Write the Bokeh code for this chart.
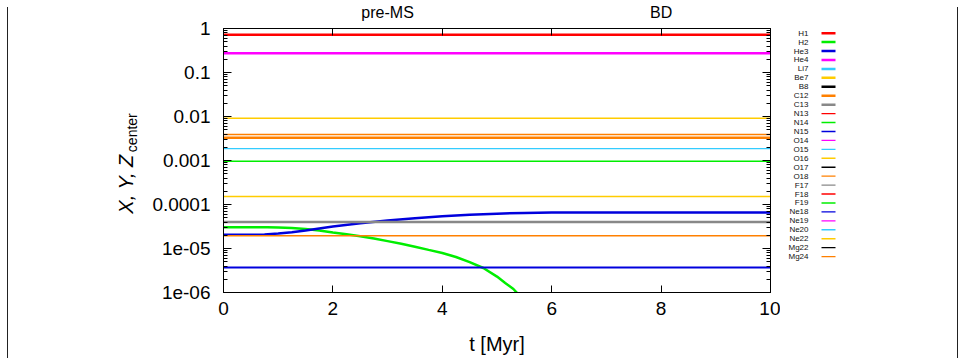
from bokeh.plotting import figure
from bokeh.layouts import row
from bokeh.models import (FixedTicker, LogAxis, LinearAxis, Label, Range1d,
                          CustomJSTickFormatter, ColumnDataSource)
from bokeh.core.properties import value
from bokeh.embed import file_html
from bokeh.resources import INLINE

# ---------------- data ----------------
species = ["H1", "H2", "He3", "He4", "Li7", "Be7", "B8", "C12", "C13",
           "N13", "N14", "N15", "O14", "O15", "O16", "O17", "O18",
           "F17", "F18", "F19", "Ne18", "Ne19", "Ne20", "Ne22", "Mg22", "Mg24"]

t_flat = [0, 10]
X_H1 = [0.72, 0.72]
X_He4 = [0.275, 0.275]
X_C12 = [0.0033, 0.0033]
X_C13 = [4.0e-5, 4.0e-5]
X_N14 = [0.00096, 0.00096]
X_N15 = [3.7e-6, 3.7e-6]
X_O16 = [0.0091, 0.0091]
X_O18 = [1.95e-5, 1.95e-5]
X_Ne20 = [0.00186, 0.00186]
X_Ne22 = [0.000152, 0.000152]
X_Mg24 = [0.0039, 0.0039]

t_H2 = [0.0, 0.5, 0.8, 1.0, 1.25, 1.5, 1.75, 2.0, 2.25, 2.5, 2.75, 3.0, 3.25,
        3.5, 3.75, 4.0, 4.25, 4.5, 4.75, 5.0, 5.15, 5.3, 5.36, 5.45]
X_H2 = [3.05e-5, 3.05e-5, 3.03e-5, 3.0e-5, 2.92e-5, 2.78e-5, 2.56e-5, 2.3e-5,
        2.1e-5, 1.9e-5, 1.68e-5, 1.47e-5, 1.28e-5, 1.1e-5, 9.3e-6, 7.9e-6,
        6.4e-6, 4.9e-6, 3.6e-6, 2.3e-6, 1.65e-6, 1.2e-6, 1.0e-6, 7.0e-7]

t_He3 = [0.0, 0.5, 0.75, 1.0, 1.25, 1.5, 1.75, 2.0, 2.5, 3.0, 3.5, 4.0, 4.5,
         5.0, 5.5, 6.0, 7.0, 10.0]
X_He3 = [2.05e-5, 2.05e-5, 2.08e-5, 2.18e-5, 2.35e-5, 2.58e-5, 2.85e-5, 3.15e-5,
         3.75e-5, 4.35e-5, 4.9e-5, 5.4e-5, 5.85e-5, 6.2e-5, 6.45e-5, 6.55e-5,
         6.6e-5, 6.6e-5]

series = {
    "H1": (t_flat, X_H1), "H2": (t_H2, X_H2), "He3": (t_He3, X_He3),
    "He4": (t_flat, X_He4), "C12": (t_flat, X_C12), "C13": (t_flat, X_C13),
    "N14": (t_flat, X_N14), "N15": (t_flat, X_N15), "O16": (t_flat, X_O16),
    "O18": (t_flat, X_O18), "Ne20": (t_flat, X_Ne20), "Ne22": (t_flat, X_Ne22),
    "Mg24": (t_flat, X_Mg24),
}

y_tick_labels = ["1e-06", "1e-05", "0.0001", "0.001", "0.01", "0.1", "1"]
x_ticks = [0, 2, 4, 6, 8, 10]
phase_labels = ["pre-MS", "BD"]
phase_t = [3, 8]

# ---------------- style ----------------
palette = ["#ff0000", "#00ee00", "#0000dd", "#ff00ff", "#33ccff",
           "#ffcc00", "#000000", "#ff8000", "#888888"]
colors = [palette[i % 9] for i in range(len(species))]
widths = [2.5 if i < 9 else 1.4 for i in range(len(species))]
FONT = "Liberation Sans"
H = 358
W1 = 772
W2 = 949 - W1

p = figure(width=W1, height=H, y_axis_type="log",
           x_range=Range1d(0, 10), y_range=Range1d(1e-6, 1),
           output_backend="svg", toolbar_location=None,
           min_border_left=215, min_border_right=10,
           min_border_top=27, min_border_bottom=66)
p.xgrid.visible = False
p.ygrid.visible = False
p.outline_line_color = "black"
p.outline_line_width = 1

for i, s in enumerate(species):
    if s in series:
        tx, ty = series[s]
        lw = 2.0 if s == "N15" else widths[i]
        p.line(tx, ty, line_color=colors[i], line_width=lw)

# y axes
decades = [1e-6, 1e-5, 1e-4, 1e-3, 1e-2, 1e-1, 1.0]
minors = [m * 10.0 ** k for k in range(-6, 0) for m in range(2, 10)]
yticker = FixedTicker(ticks=decades, minor_ticks=minors)
yfmt = CustomJSTickFormatter(args=dict(labels=y_tick_labels),
                             code="return labels[Math.round(Math.log10(tick)) + 6];")
ya = p.yaxis[0]
ya.ticker = yticker
ya.formatter = yfmt
ya.major_tick_in = 8
ya.major_tick_out = 0
ya.minor_tick_in = 4
ya.minor_tick_out = 0
ya.major_label_standoff = 13
ya.major_label_text_font = FONT
ya.major_label_text_font_size = "19px"
ya.major_label_text_color = "black"
ya.axis_line_color = "black"

ra = LogAxis(ticker=yticker,
             formatter=CustomJSTickFormatter(code="return '';"))
ra.major_tick_in = 8
ra.major_tick_out = 0
ra.minor_tick_in = 4
ra.minor_tick_out = 0
ra.major_label_text_font_size = "0px"
ra.major_label_standoff = 0
p.add_layout(ra, "right")

# x axes
xa = p.xaxis[0]
xa.ticker = FixedTicker(ticks=x_ticks)
xa.major_tick_in = 7
xa.major_tick_out = 0
xa.minor_tick_in = 0
xa.minor_tick_out = 0
xa.major_label_standoff = 9
xa.major_label_text_font = FONT
xa.major_label_text_font_size = "19px"
xa.major_label_text_color = "black"
xa.axis_line_color = "black"
xa.axis_label = "t [Myr]"
xa.axis_label_standoff = 15
xa.axis_label_text_font = FONT
xa.axis_label_text_font_size = "20px"
xa.axis_label_text_font_style = "normal"
xa.axis_label_text_color = "black"

ta = LinearAxis(ticker=FixedTicker(ticks=phase_t, minor_ticks=x_ticks[1:-1]),
                formatter=CustomJSTickFormatter(args=dict(labels=phase_labels),
                                                code="return labels[index];"))
ta.major_tick_in = 0
ta.major_tick_out = 0
ta.minor_tick_in = 7
ta.minor_tick_out = 0
ta.major_label_standoff = 8
ta.major_label_text_font = FONT
ta.major_label_text_font_size = "16px"
ta.major_label_text_color = "black"
p.add_layout(ta, "above")

# y axis title (italic X, Y, Z with subscript "center")
p.add_layout(Label(x=-1.79, y=6.2e-5, text="X, Y, Z", angle=90,
                   angle_units="deg", text_font=FONT,
                   text_font_style="italic", text_font_size="20px",
                   text_align="left", text_baseline="middle",
                   text_color="black"), "left")
p.add_layout(Label(x=-1.68, y=1.55e-3, text="center", angle=90,
                   angle_units="deg", text_font=FONT,
                   text_font_size="14px", text_align="left",
                   text_baseline="middle", text_color="black"), "left")

# ---------------- key (legend panel, page-pixel layout) ----------------
row_y = [31.7 + 8.97 * i for i in range(len(species))]
n = len(species)
key = ColumnDataSource(dict(name=species, y=row_y, color=colors, width=widths,
                            tx=[28] * n, x0=[41] * n, x1=[55] * n))
p2 = figure(width=W2, height=H, x_range=Range1d(0, W2),
            y_range=Range1d(292, 27),
            output_backend="svg", toolbar_location=None,
            min_border_left=0, min_border_right=0,
            min_border_top=27, min_border_bottom=66)
p2.axis.visible = False
p2.grid.visible = False
p2.outline_line_color = None
p2.text(x="tx", y="y", text="name", source=key, text_align="right",
        text_baseline="middle", text_font=value(FONT),
        text_font_size="8px", text_color="#111111")
p2.segment(x0="x0", y0="y", x1="x1", y1="y", source=key,
           line_color="color", line_width="width")

lay = row(p, p2, spacing=0)
lay.margin = (0, 0, 0, 8)
lay.styles = {"box-shadow": "-1px 7px 0 #222, 1px 7px 0 #222"}

open("out.html", "w").write(file_html(lay, INLINE))
